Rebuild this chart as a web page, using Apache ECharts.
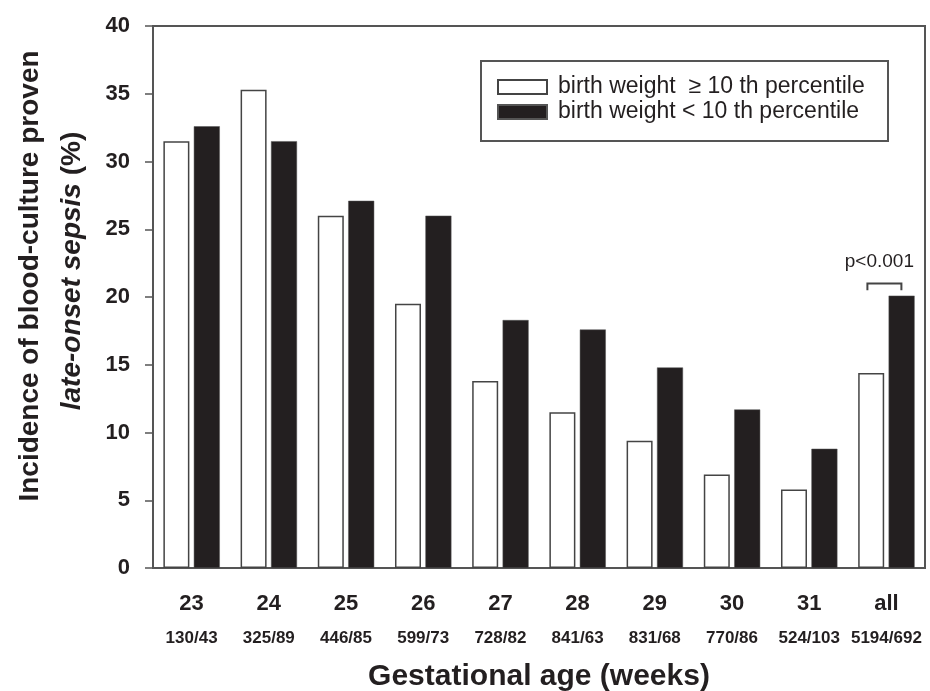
<!DOCTYPE html>
<html lang="en">
<head>
    <meta charset="UTF-8">
    <title>late-onset sepsis by gestational age</title>
    <script src="https://cdn.jsdelivr.net/npm/echarts@6/dist/echarts.min.js"></script>
    <style>
        html, body { margin: 0; padding: 0; background: #fff; }
    </style>
</head>
<body>
<div id="main" style="width: 930px;height: 691px"></div>

<script>
    var weeks = ["23", "24", "25", "26", "27", "28", "29", "30", "31", "all"];
    var counts = ["130/43", "325/89", "446/85", "599/73", "728/82", "841/63", "831/68", "770/86", "524/103", "5194/692"];
    var normalWeight = [31.5, 35.3, 26.0, 19.5, 13.8, 11.5, 9.4, 6.9, 5.8, 14.4];
    var lowWeight = [32.6, 31.5, 27.1, 26.0, 18.3, 17.6, 14.8, 11.7, 8.8, 20.1];
    var yTicks = [0, 5, 10, 15, 20, 25, 30, 35, 40];
    // p-value bracket over the "all" pair: [category index, bracket level, leg end, text level]
    var bracket = [[9, 21.0, 20.5, 22.6]];
    var pText = "p<0.001";

    var nameHigh = "birth weight  \u2265 10 th percentile";
    var nameLow = "birth weight < 10 th percentile";

    var font = "Liberation Sans, Arial, Helvetica, sans-serif";
    var ink = "#231f20";

    var myChart = echarts.init(document.getElementById('main'));

    var option = {
        animation: false,
        grid: {
            left: 153,
            right: 5,
            top: 26,
            bottom: 123,
            show: true,
            borderColor: '#555',
            borderWidth: 2
        },
        legend: {
            data: [nameHigh, nameLow],
            orient: 'vertical',
            left: 481,
            top: 61,
            padding: [14, 16, 17, 16],
            itemGap: 1,
            itemWidth: 49,
            itemHeight: 14,
            icon: 'rect',
            selectedMode: false,
            textStyle: {
                fontFamily: font,
                fontSize: 23,
                color: ink,
                lineHeight: 24,
                padding: [0, 0, 0, 6]
            }
        },
        graphic: [{
            type: 'rect',
            shape: {x: 481, y: 61, width: 407, height: 80},
            style: {fill: 'none', stroke: '#555', lineWidth: 2},
            z: 10
        }, {
            type: 'text',
            x: 30,
            y: 276,
            rotation: Math.PI / 2,
            style: {
                text: 'Incidence of blood-culture proven',
                font: 'bold 28px ' + font,
                fill: ink,
                align: 'center',
                verticalAlign: 'middle'
            }
        }, {
            type: 'text',
            x: 72,
            y: 271,
            rotation: Math.PI / 2,
            style: {
                text: '{i|late-onset sepsis }{n|(%)}',
                align: 'center',
                verticalAlign: 'middle',
                fill: ink,
                rich: {
                    i: {font: 'italic bold 28px ' + font, fill: ink},
                    n: {font: 'bold 28px ' + font, fill: ink}
                }
            }
        }, {
            type: 'text',
            x: 539,
            y: 677,
            style: {
                text: 'Gestational age (weeks)',
                font: 'bold 30px ' + font,
                fill: ink,
                align: 'center',
                verticalAlign: 'middle'
            }
        }],
        xAxis: {
            type: 'category',
            data: weeks,
            axisLine: {lineStyle: {color: '#555', width: 2}},
            axisTick: {alignWithLabel: true, length: 7, lineStyle: {color: '#555', width: 1.5}},
            axisLabel: {
                interval: 0,
                margin: 22,
                formatter: function (value, idx) {
                    return '{a|' + value + '}\n{b|' + counts[idx] + '}';
                },
                rich: {
                    a: {fontFamily: font, fontSize: 22, fontWeight: 'bold', color: ink, lineHeight: 28},
                    b: {fontFamily: font, fontSize: 17, fontWeight: 'bold', color: ink, lineHeight: 40}
                }
            }
        },
        yAxis: {
            type: 'value',
            min: yTicks[0],
            max: yTicks[yTicks.length - 1],
            interval: yTicks[1] - yTicks[0],
            splitLine: {show: false},
            axisLine: {show: true, lineStyle: {color: '#555', width: 2}},
            axisTick: {show: true, length: 8, lineStyle: {color: '#555', width: 1.5}},
            axisLabel: {
                margin: 23,
                fontFamily: font,
                fontSize: 22,
                fontWeight: 'bold',
                color: ink
            }
        },
        series: [{
            name: nameHigh,
            type: 'bar',
            data: normalWeight,
            barWidth: 26,
            barGap: '17%',
            itemStyle: {color: '#fff', borderColor: '#444', borderWidth: 1.5}
        }, {
            name: nameLow,
            type: 'bar',
            data: lowWeight,
            barWidth: 26,
            barGap: '17%',
            itemStyle: {color: ink, borderColor: '#555', borderWidth: 0.5}
        }, {
            type: 'custom',
            data: bracket,
            encode: {x: 0, y: 1},
            z: 5,
            renderItem: function (params, api) {
                var top = api.coord([api.value(0), api.value(1)]);
                var leg = api.coord([api.value(0), api.value(2)]);
                var txt = api.coord([api.value(0), api.value(3)]);
                var half = 17;
                var cx = top[0] - 2;
                return {
                    type: 'group',
                    children: [{
                        type: 'polyline',
                        shape: {
                            points: [[cx - half, leg[1]], [cx - half, top[1]], [cx + half, top[1]], [cx + half, leg[1]]]
                        },
                        style: {stroke: '#444', lineWidth: 2, fill: null}
                    }, {
                        type: 'text',
                        x: top[0] - 7,
                        y: txt[1],
                        style: {
                            text: pText,
                            font: '19px ' + font,
                            fill: ink,
                            align: 'center',
                            verticalAlign: 'middle'
                        }
                    }]
                };
            }
        }]
    };

    myChart.setOption(option);
</script>
</body>
</html>
